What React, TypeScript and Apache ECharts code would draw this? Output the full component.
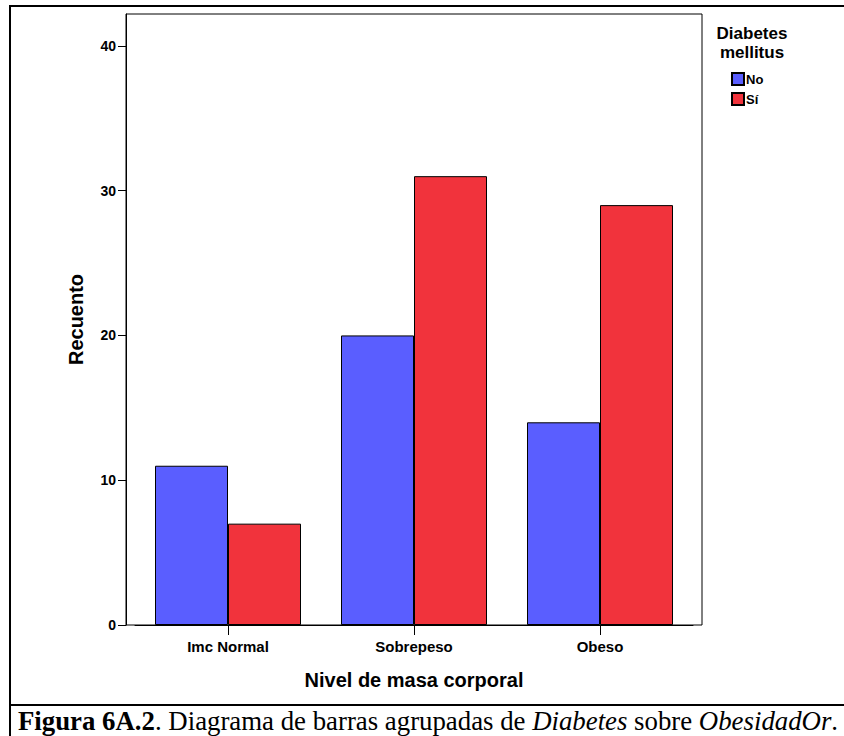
import React, { useEffect, useRef } from "react";
import * as echarts from "echarts";

const categories = ["Imc Normal", "Sobrepeso", "Obeso"];
const seriesNames = ["No", "Sí"];
const valuesNo = [11, 20, 14];
const valuesSi = [7, 31, 29];
const yTicks = { min: 0, max: 42.2, interval: 10 };

const BLUE = "#5a5eff";
const RED = "#f1333c";
const SANS = "Liberation Sans, Arial, sans-serif";
const SERIF = "Liberation Serif, Times New Roman, serif";

export default function App() {
  const ref = useRef<HTMLDivElement>(null);
  useEffect(() => {
    if (!ref.current) return;
    const chart = echarts.init(ref.current, undefined, { renderer: "svg" });
    chart.setOption({
      animation: false,
      backgroundColor: "#fff",
      textStyle: { fontFamily: SANS },
      grid: [
        { left: 135, right: 151, top: 14, bottom: 111 },
        {
          left: 126,
          right: 142,
          top: 14,
          bottom: 111,
          show: true,
          borderColor: "#000",
          borderWidth: 1,
          backgroundColor: "transparent",
          z: 5,
        },
      ],
      legend: {
        data: seriesNames,
        orient: "vertical",
        left: 731,
        top: 72,
        itemWidth: 12,
        itemHeight: 12,
        itemGap: 6,
        padding: 0,
        icon: "rect",
        textStyle: { fontFamily: SANS, fontWeight: "bold", fontSize: 13, color: "#000", padding: [0, 0, 0, -3] },
      },
      xAxis: [
        {
          type: "category",
          gridIndex: 0,
          data: categories,
          axisLine: { show: true, lineStyle: { color: "#000", width: 1 } },
          axisTick: { show: true, alignWithLabel: true, length: 10, lineStyle: { color: "#000" } },
          axisLabel: { color: "#000", fontWeight: "bold", fontSize: 15, margin: 14, fontFamily: SANS },
          name: "Nivel de masa corporal",
          nameLocation: "middle",
          nameGap: 45,
          nameTextStyle: { color: "#000", fontWeight: "bold", fontSize: 20, fontFamily: SANS },
        },
        { type: "value", gridIndex: 1, show: false },
      ],
      yAxis: [
        {
          type: "value",
          gridIndex: 0,
          min: yTicks.min,
          max: yTicks.max,
          interval: yTicks.interval,
          offset: 9,
          axisLine: { show: true, lineStyle: { color: "#000", width: 1 } },
          axisTick: { show: true, length: 8, lineStyle: { color: "#000" } },
          axisLabel: {
            color: "#000",
            fontWeight: "bold",
            fontSize: 14,
            margin: 10,
            fontFamily: SANS,
            showMaxLabel: false,
          },
          splitLine: { show: false },
          name: "Recuento",
          nameLocation: "middle",
          nameGap: 40,
          nameTextStyle: { color: "#000", fontWeight: "bold", fontSize: 20, fontFamily: SANS },
        },
        { type: "value", gridIndex: 1, show: false },
      ],
      series: [
        {
          name: seriesNames[0],
          type: "bar",
          xAxisIndex: 0,
          yAxisIndex: 0,
          data: valuesNo,
          barWidth: 73,
          barGap: "0%",
          itemStyle: { color: BLUE, borderColor: "#000", borderWidth: 1 },
        },
        {
          name: seriesNames[1],
          type: "bar",
          xAxisIndex: 0,
          yAxisIndex: 0,
          data: valuesSi,
          barWidth: 73,
          barGap: "0%",
          itemStyle: { color: RED, borderColor: "#000", borderWidth: 1 },
        },
      ],
      graphic: [
        {
          type: "rect",
          shape: { x: 10, y: 6, width: 900, height: 800 },
          style: { fill: "none", stroke: "#000", lineWidth: 2 },
          silent: true,
        },
        {
          type: "line",
          shape: { x1: 10, y1: 705, x2: 844, y2: 705 },
          style: { stroke: "#000", lineWidth: 2 },
          silent: true,
        },
        {
          type: "text",
          x: 752,
          y: 25,
          style: {
            text: "Diabetes",
            fill: "#000",
            font: "bold 17px " + SANS,
            textAlign: "center",
          },
        },
        {
          type: "text",
          x: 752,
          y: 44,
          style: {
            text: "mellitus",
            fill: "#000",
            font: "bold 17px " + SANS,
            textAlign: "center",
          },
        },
        {
          type: "text",
          x: 18,
          y: 707,
          style: {
            text: "{b|Figura 6A.2}{r|. Diagrama de barras agrupadas de }{i|Diabetes}{r| sobre }{i|ObesidadOr}{r|.}",
            fill: "#000",
            rich: {
              b: { fontFamily: SERIF, fontSize: 26.8, fontWeight: "bold", fill: "#000" },
              r: { fontFamily: SERIF, fontSize: 26.8, fill: "#000" },
              i: { fontFamily: SERIF, fontSize: 26.8, fontStyle: "italic", fill: "#000" },
            },
          },
        },
      ],
    });
    return () => chart.dispose();
  }, []);
  return (
    <div
      ref={ref}
      style={{ position: "fixed", left: 0, top: 0, width: 844, height: 736 }}
    />
  );
}
